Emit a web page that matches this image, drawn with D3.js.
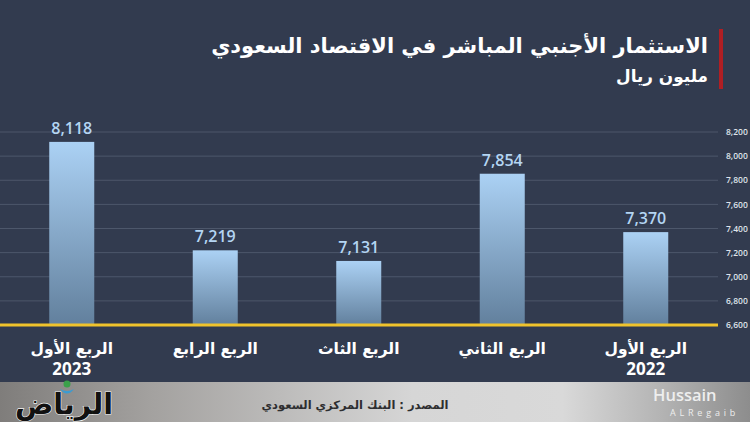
<!DOCTYPE html>
<html><head><meta charset="utf-8">
<script src="https://cdn.jsdelivr.net/npm/d3@7"></script>
<style>html,body{margin:0;padding:0;background:#323b4f;}svg{display:block;}</style>
</head><body>
<svg id="c" width="750" height="422"></svg>
<script>
const categories = ["الربع الأول", "الربع الرابع", "الربع الثاث", "الربع الثاني", "الربع الأول"];
const years = ["2023", "", "", "", "2022"];
const values = [8118, 7219, 7131, 7854, 7370];
const yTicks = [6600, 6800, 7000, 7200, 7400, 7600, 7800, 8000, 8200];
const title = "الاستثمار الأجنبي المباشر في الاقتصاد السعودي";
const subtitle = "مليون ريال";
const source = "المصدر : البنك المركزي السعودي";

const svg = d3.select("#c");
const W = 750, H = 422;
const AR = "'DejaVu Sans', 'Noto Sans', sans-serif";

const defs = svg.append("defs");
const bg = defs.append("linearGradient").attr("id","barg").attr("x1",0).attr("y1",0).attr("x2",0).attr("y2",1);
bg.append("stop").attr("offset","0%").attr("stop-color","#abd1f4");
bg.append("stop").attr("offset","100%").attr("stop-color","#62809d");
const fg = defs.append("linearGradient").attr("id","foot").attr("x1",0).attr("y1",0).attr("x2",1).attr("y2",0);
[["0%","#7f7d7b"],["20%","#a3a19f"],["55%","#d6d6d6"],["75%","#d9d9d9"],["88%","#b4b4b4"],["100%","#8d8d8d"]]
  .forEach(([o,c])=>fg.append("stop").attr("offset",o).attr("stop-color",c));

svg.append("rect").attr("width",W).attr("height",H).attr("fill","#323b4f");

const x = d3.scaleBand().domain(d3.range(values.length)).range([0, 717.5]).padding(0);
const y = d3.scaleLinear().domain([6600, 8200]).range([325, 132]);
const barW = 45;

// grid lines
svg.append("g").selectAll("line").data(yTicks.slice(1)).join("line")
  .attr("x1",0).attr("x2",718).attr("y1",d=>y(d)).attr("y2",d=>y(d))
  .attr("stroke","#4d576b").attr("stroke-width",1);

// y axis labels on the right
const yAxis = d3.axisRight(y).tickValues(yTicks).tickSize(0).tickPadding(0).tickFormat(d3.format(","));
const ga = svg.append("g").attr("transform","translate(726,0)").call(yAxis);
ga.select(".domain").remove();
ga.selectAll("text").attr("fill","#dfe3ea").attr("font-family","'Open Sans', sans-serif")
  .attr("font-size",8.5).attr("font-weight",600);

// bars
svg.append("g").selectAll("rect").data(values).join("rect")
  .attr("x",(d,i)=>x(i)+x.bandwidth()/2-barW/2).attr("width",barW)
  .attr("y",d=>y(d)).attr("height",d=>y(6600)-y(d))
  .attr("fill","url(#barg)");

// baseline
svg.append("line").attr("x1",0).attr("x2",718).attr("y1",y(6600)).attr("y2",y(6600))
  .attr("stroke","#f0c32c").attr("stroke-width",3);

// value labels
svg.append("g").selectAll("text").data(values).join("text")
  .attr("x",(d,i)=>x(i)+x.bandwidth()/2).attr("y",d=>y(d)-8)
  .attr("text-anchor","middle").attr("fill","#b4d5f3")
  .attr("font-family","'Open Sans', sans-serif").attr("font-size",16).attr("font-weight",600)
  .text(d3.format(","));

// category labels
const cat = svg.append("g");
cat.selectAll("text.c").data(categories).join("text").attr("class","c")
  .attr("x",(d,i)=>x(i)+x.bandwidth()/2).attr("y",354)
  .attr("text-anchor","middle").attr("fill","#ffffff")
  .attr("font-family",AR).attr("font-size",15.5).attr("font-weight","bold").text(d=>d);
cat.selectAll("text.yr").data(years).join("text").attr("class","yr")
  .attr("x",(d,i)=>x(i)+x.bandwidth()/2).attr("y",375)
  .attr("text-anchor","middle").attr("fill","#ffffff")
  .attr("font-family","'Open Sans', sans-serif").attr("font-size",17).attr("font-weight",700).text(d=>d);

// title block
svg.append("rect").attr("x",719).attr("y",29).attr("width",4).attr("height",60).attr("fill","#b01e23");
function fitText(sel, target){
  const w = sel.node().getComputedTextLength();
  const fs = +sel.attr("font-size");
  sel.attr("font-size", fs*target/w);
}
const t = svg.append("text").attr("x",708).attr("y",53).attr("text-anchor","end")
  .attr("fill","#ffffff").attr("font-family",AR).attr("font-weight","bold").attr("font-size",24).text(title);
fitText(t, 497);
const st = svg.append("text").attr("x",708).attr("y",82).attr("text-anchor","end")
  .attr("fill","#ffffff").attr("font-family",AR).attr("font-weight","bold").attr("font-size",17).text(subtitle);
fitText(st, 92);

// footer
svg.append("rect").attr("x",0).attr("y",382).attr("width",W).attr("height",40).attr("fill","url(#foot)");
const src = svg.append("text").attr("x",355).attr("y",409).attr("text-anchor","middle")
  .attr("fill","#2e2e30").attr("font-family",AR).attr("font-weight","bold").attr("font-size",13).text(source);
fitText(src, 187);
svg.append("text").attr("x",653).attr("y",401).attr("fill","#eeeeee")
  .attr("font-family","'Open Sans', sans-serif").attr("font-size",16.5).attr("font-weight",600).text("Hussain");
svg.append("text").attr("x",670).attr("y",416).attr("fill","#eeeeee")
  .attr("font-family","'Open Sans', sans-serif").attr("font-size",9).attr("letter-spacing",3.8).text("ALRegaib");

// logo
const lg = svg.append("g");
const logo = lg.append("text").attr("x",64).attr("y",414).attr("text-anchor","middle")
  .attr("fill","#111111").attr("stroke","#f2f2f2").attr("stroke-width",1.2).attr("paint-order","stroke")
  .attr("font-family","'DejaVu Serif', 'DejaVu Sans', serif").attr("font-weight","bold").attr("font-size",30).text("الرياض");
fitText(logo, 98);
lg.append("circle").attr("cx",67).attr("cy",384).attr("r",3.5).attr("fill","#3aa14a");
lg.append("path").attr("d","M60,389 Q67,398 74,389 Q67,393 60,389Z").attr("fill","#3b9bd1");
</script>
</body></html>
